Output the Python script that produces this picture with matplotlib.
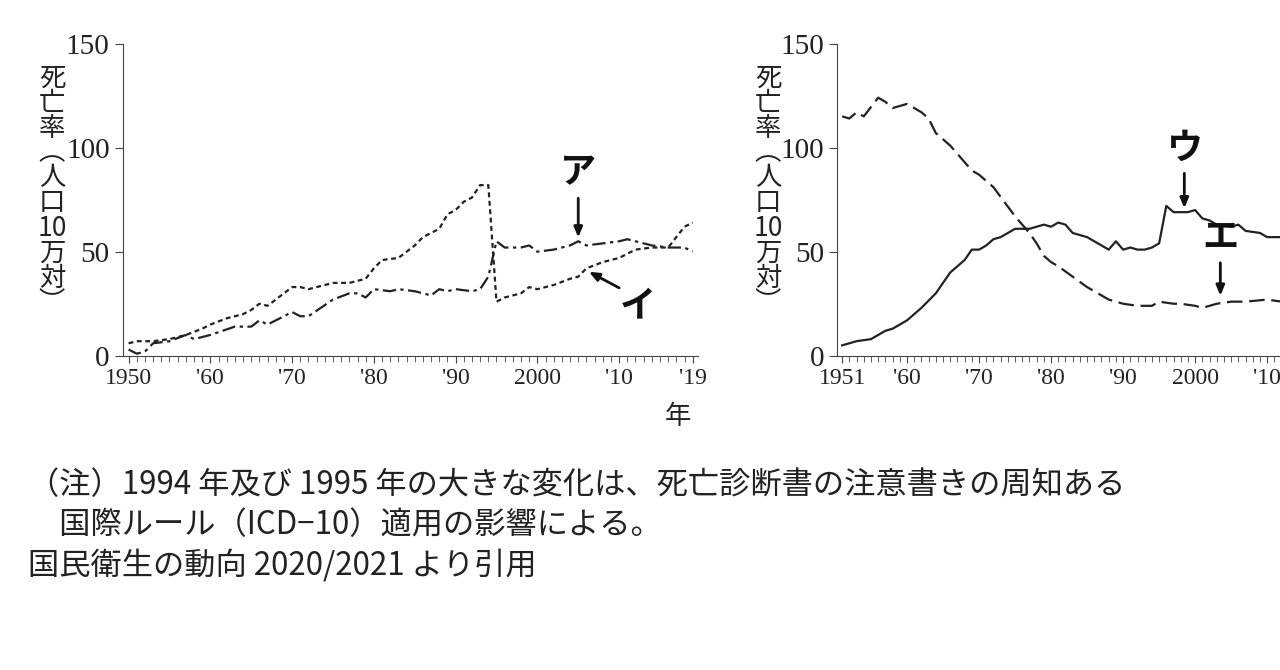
import numpy as np
import matplotlib.pyplot as plt
from matplotlib.ticker import MultipleLocator

# left panel
years_a = [1950, 1951, 1952, 1953, 1955, 1957, 1958, 1960, 1963, 1965, 1966, 1967, 1970, 1971, 1972,
           1975, 1977, 1978, 1979, 1980, 1982, 1983, 1985, 1987, 1988, 1989, 1990, 1992, 1993, 1994,
           1995, 1996, 1998, 1999, 2000, 2002, 2004, 2005, 2006, 2008, 2010, 2011, 2012, 2014, 2016,
           2018, 2019]
vals_a = [3, 1, 2, 6, 7, 10, 8, 10, 14, 14, 17, 15, 21, 19, 19,
          27, 30, 30, 28, 32, 31, 32, 31, 29, 32, 31, 32, 31, 32, 38,
          55, 52, 52, 53, 50, 51, 53, 55, 53, 54, 55, 56, 55, 53, 52,
          52, 50]
years_i = [1950, 1951, 1953, 1955, 1957, 1959, 1960, 1962, 1964, 1965, 1966, 1967, 1968, 1970, 1971,
           1972, 1973, 1975, 1977, 1979, 1980, 1981, 1983, 1985, 1986, 1988, 1989, 1990, 1991, 1992,
           1993, 1994, 1995, 1996, 1998, 1999, 2000, 2002, 2004, 2005, 2006, 2008, 2010, 2012, 2014,
           2016, 2017, 2018, 2019]
vals_i = [6, 7, 7, 8, 10, 13, 15, 18, 20, 22, 25, 24, 27, 33, 33,
          32, 33, 35, 35, 37, 42, 46, 47, 53, 57, 61, 68, 70, 74, 76,
          82, 82, 26, 28, 30, 33, 32, 34, 37, 38, 42, 45, 47, 51, 52,
          52, 57, 62, 64]

# right panel
years_u = [1951, 1952, 1953, 1955, 1956, 1957, 1958, 1960, 1962, 1964, 1965, 1966, 1968, 1969, 1970,
           1971, 1972, 1973, 1975, 1977, 1979, 1980, 1981, 1982, 1983, 1985, 1987, 1988, 1989, 1990,
           1991, 1992, 1993, 1994, 1995, 1996, 1997, 1999, 2000, 2001, 2002, 2003, 2005, 2006, 2007,
           2009, 2010, 2012, 2014, 2016, 2019]
vals_u = [5, 6, 7, 8, 10, 12, 13, 17, 23, 30, 35, 40, 46, 51, 51,
          53, 56, 57, 61, 61, 63, 62, 64, 63, 59, 57, 53, 51, 55, 51,
          52, 51, 51, 52, 54, 72, 69, 69, 70, 66, 65, 63, 62, 63, 60,
          59, 57, 57, 56, 55, 55]
years_e = [1951, 1952, 1953, 1954, 1956, 1957, 1958, 1959, 1960, 1961, 1962, 1963, 1964, 1965, 1966,
           1968, 1969, 1970, 1972, 1975, 1977, 1978, 1979, 1980, 1981, 1983, 1985, 1987, 1988, 1990,
           1992, 1994, 1995, 1997, 1998, 2000, 2001, 2003, 2005, 2007, 2010, 2012, 2015, 2019]
vals_e = [115, 114, 117, 115, 124, 122, 119, 120, 121, 119, 117, 114, 107, 104, 101,
          93, 89, 87, 81, 67, 59, 54, 48, 45, 43, 38, 33, 29, 27, 25,
          24, 24, 26, 25, 25, 24, 23, 25, 26, 26, 27, 26, 27, 27]

ylabel_chars = ["死", "亡", "率", "︵", "人", "口", "10", "万", "対", "︶"]

jp = "Noto Sans CJK JP"
num = "Liberation Serif"
col = "#222222"

fig = plt.figure(figsize=(12.8, 6.7), dpi=100)
ax1 = fig.add_axes([0.096, 0.469, 0.449, 0.466])
ax2 = fig.add_axes([0.654, 0.469, 0.39, 0.466])


def style(ax, x0, x1, ticks, labels):
    ax.set_xlim(x0, x1)
    ax.set_ylim(0, 150)
    for s in ["top", "right"]:
        ax.spines[s].set_visible(False)
    for s in ["left", "bottom"]:
        ax.spines[s].set_color("#444444")
    ax.set_yticks([0, 50, 100, 150])
    ax.set_xticks(ticks)
    ax.set_xticklabels(labels)
    ax.xaxis.set_minor_locator(MultipleLocator(1))
    ax.tick_params(axis="x", which="major", length=5, direction="out", color="#444444", labelsize=17)
    ax.tick_params(axis="x", which="minor", length=4, direction="out", color="#444444")
    ax.tick_params(axis="y", length=6, color="#444444", labelsize=21)
    for t in ax.get_xticklabels() + ax.get_yticklabels():
        t.set_fontfamily(num)
        t.set_color("#222222")


style(ax1, 1949.3, 2019.6, [1950, 1960, 1970, 1980, 1990, 2000, 2010, 2019],
      ["1950", "'60", "'70", "'80", "'90", "2000", "'10", "'19"])
style(ax2, 1950.3, 2019.6, [1951, 1960, 1970, 1980, 1990, 2000, 2010, 2019],
      ["1951", "'60", "'70", "'80", "'90", "2000", "'10", "'19"])

ax1.plot(years_a, vals_a, color=col, lw=1.6, ls=(0, (6, 2, 1.5, 2)))
ax1.plot(years_i, vals_i, color=col, lw=1.6, ls=(0, (2.2, 1.6)))
ax2.plot(years_u, vals_u, color=col, lw=1.6, ls="-")
ax2.plot(years_e, vals_e, color=col, lw=1.6, ls=(0, (7, 3)))

arw = dict(arrowstyle="-|>,head_length=0.6,head_width=0.25", color="#111111", lw=2)
tk = dict(fontfamily=jp, fontsize=26, fontweight="bold", color="#111111")
ax1.annotate("", xy=(2005, 55.5), xytext=(2005, 77), arrowprops=arw)
ax1.text(2005, 79, "ア", ha="center", va="bottom", **tk)
ax1.annotate("", xy=(2006, 41), xytext=(2010.3, 32), arrowprops=arw)
ax1.text(2012.3, 24, "イ", ha="center", va="center", **tk)
ax2.annotate("", xy=(1998.5, 69.5), xytext=(1998.5, 89), arrowprops=arw)
ax2.text(1998.5, 91, "ウ", ha="center", va="bottom", **tk)
ax2.annotate("", xy=(2003.5, 27.5), xytext=(2003.5, 46), arrowprops=arw)
ax2.text(2003.5, 48, "エ", ha="center", va="bottom", **tk)

for xpix in (52, 768):
    y = 78
    for ch in ylabel_chars:
        fig.text(xpix / 1280, 1 - y / 670, ch, ha="center", va="center",
                 fontfamily=jp, fontsize=19, color="#222222")
        y += 25

fig.text(678 / 1280, 1 - 416 / 670, "年", ha="center", va="center",
         fontfamily=jp, fontsize=19, color="#222222")

notes = ["（注）1994 年及び 1995 年の大きな変化は、死亡診断書の注意書きの周知ある",
         "　国際ルール（ICD−10）適用の影響による。",
         "国民衛生の動向 2020/2021 より引用"]
for k, line in enumerate(notes):
    fig.text(0.022, 1 - (485 + 40 * k) / 670, line, ha="left", va="center",
             fontfamily=jp, fontsize=22.5, color="#222222")

fig.savefig("out.png", dpi=100)
